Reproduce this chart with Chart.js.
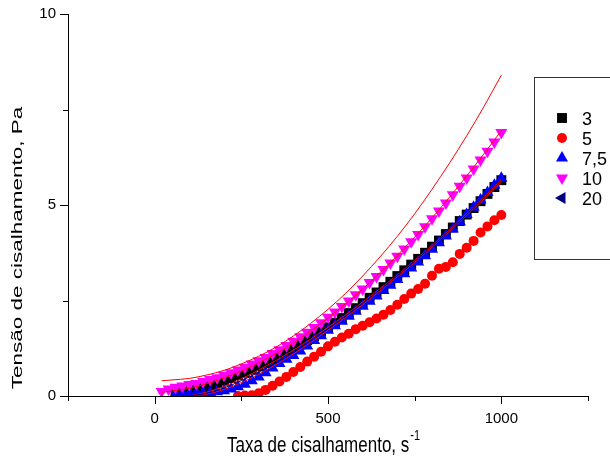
<!DOCTYPE html>
<html>
<head>
<meta charset="utf-8">
<script src="https://cdn.jsdelivr.net/npm/chart.js@4"></script>
<style>
  html, body { margin: 0; padding: 0; background: #fff; }
</style>
</head>
<body>
<canvas id="myChart" width="610" height="460"></canvas>
<script>
// shear rate (s-1) for the measured points
const shearRate = [20, 40, 60, 80, 100, 120, 140, 160, 180, 200,
    220, 240, 260, 280, 300, 320, 340, 360, 380, 400,
    420, 440, 460, 480, 500, 520, 540, 560, 580, 600,
    620, 640, 660, 680, 700, 720, 740, 760, 780, 800,
    820, 840, 860, 880, 900, 920, 940, 960, 980, 1000];

// shear stress (Pa), one list per legend entry
const stress3 = [null, null, 0.05, 0.09, 0.13, 0.17, 0.22, 0.28, 0.33, 0.40,
    0.47, 0.54, 0.61, 0.69, 0.78, 0.86, 0.95, 1.05, 1.15, 1.25,
    1.35, 1.46, 1.57, 1.68, 1.80, 1.92, 2.04, 2.17, 2.30, 2.43,
    2.57, 2.71, 2.85, 2.99, 3.14, 3.29, 3.44, 3.59, 3.75, 3.91,
    4.07, 4.24, 4.41, 4.58, 4.75, 4.92, 5.10, 5.29, 5.47, 5.65];
const stress5 = [null, null, null, null, null, null, null, null, null, null,
    null, 0.00, 0.01, 0.02, 0.07, 0.16, 0.27, 0.38, 0.50, 0.63,
    0.76, 0.90, 1.03, 1.16, 1.30, 1.42, 1.53, 1.63, 1.75, 1.84,
    1.93, 2.03, 2.13, 2.25, 2.39, 2.54, 2.68, 2.80, 2.94, 3.15,
    3.33, 3.38, 3.50, 3.72, 3.88, 4.06, 4.28, 4.44, 4.60, 4.74];
const stress75 = [null, null, 0.05, 0.05, 0.06, 0.07, 0.08, 0.09, 0.11, 0.14,
    0.18, 0.24, 0.31, 0.40, 0.50, 0.61, 0.73, 0.85, 0.96, 1.06,
    1.18, 1.31, 1.45, 1.58, 1.72, 1.84, 1.96, 2.09, 2.22, 2.35,
    2.48, 2.62, 2.76, 2.90, 3.05, 3.20, 3.35, 3.51, 3.67, 3.84,
    4.01, 4.19, 4.37, 4.56, 4.75, 4.94, 5.13, 5.33, 5.52, 5.70];
const stress10 = [0.12, 0.18, 0.23, 0.26, 0.30, 0.33, 0.38, 0.43, 0.48, 0.54,
    0.61, 0.68, 0.75, 0.84, 0.92, 1.01, 1.11, 1.21, 1.32, 1.43,
    1.55, 1.67, 1.79, 1.92, 2.06, 2.20, 2.34, 2.49, 2.65, 2.80,
    2.97, 3.13, 3.31, 3.48, 3.66, 3.85, 4.04, 4.23, 4.43, 4.64,
    4.84, 5.05, 5.27, 5.49, 5.71, 5.94, 6.18, 6.41, 6.65, 6.90];

// fitted curves
const fitRate = [20, 50, 100, 150, 200, 250, 300, 350, 400, 450, 500,
    550, 600, 650, 700, 750, 800, 850, 900, 950, 1000];
const fitUpper = [0.40, 0.42, 0.46, 0.55, 0.67, 0.84, 1.04, 1.28, 1.57, 1.90, 2.27,
    2.68, 3.14, 3.64, 4.18, 4.77, 5.41, 6.09, 6.81, 7.58, 8.40];
const fit10 = [0.10, 0.13, 0.20, 0.32, 0.47, 0.65, 0.87, 1.11, 1.39, 1.70, 2.04,
    2.41, 2.80, 3.23, 3.68, 4.16, 4.66, 5.20, 5.76, 6.34, 6.95];
const fit3 = [null, null, 0.00, 0.10, 0.25, 0.45, 0.68, 0.93, 1.20, 1.49, 1.80,
    2.12, 2.46, 2.81, 3.17, 3.55, 3.94, 4.35, 4.77, 5.21, 5.66];
const fit75 = [null, null, 0.00, 0.05, 0.17, 0.35, 0.57, 0.82, 1.10, 1.40, 1.72,
    2.05, 2.39, 2.75, 3.12, 3.50, 3.90, 4.31, 4.73, 5.16, 5.62];
const stress20 = [null, null, 0.00, 0.07, 0.21, 0.40, 0.62, 0.87, 1.15, 1.45, 1.76,
    2.09, 2.43, 2.78, 3.15, 3.53, 3.92, 4.33, 4.75, 5.19, 5.64];

const legendNames = ['3', '5', '7,5', '10', '20'];
const xTickLabels = [0, 500, 1000];
const yTickLabels = [0, 5, 10];

const FONT = '"Liberation Sans", Arial, sans-serif';
const STRETCH = 1.25;

function points(xs, ys) {
    const out = [];
    xs.forEach((x, i) => {
        if (ys[i] !== null) out.push({ x: x, y: ys[i] });
    });
    return out;
}

function markers(label, values, color, style, rotation, radius) {
    return {
        label: label,
        data: points(shearRate, values),
        pointStyle: style,
        rotation: rotation,
        pointRadius: radius,
        pointHoverRadius: radius,
        backgroundColor: color,
        borderColor: color,
        borderWidth: 0,
        showLine: false,
        clip: { left: false, top: false, right: false, bottom: 0 }
    };
}

function curve(values, color) {
    return {
        label: 'fit',
        data: points(fitRate, values),
        showLine: true,
        borderColor: color,
        borderWidth: 1,
        pointRadius: 0,
        cubicInterpolationMode: 'monotone',
        clip: { left: false, top: false, right: false, bottom: 0 }
    };
}

// first dataset is drawn on top
const datasets = [
    curve(stress20, '#000080'),
    curve(fit3, '#ff0000'),
    curve(fit75, '#ff0000'),
    curve(fit10, '#ff0000'),
    curve(fitUpper, '#ff0000'),
    markers('10', stress10, '#ff00ff', 'triangle', 180, 7),
    markers('7,5', stress75, '#0000ff', 'triangle', 0, 7),
    markers('5', stress5, '#ff0000', 'circle', 0, 5),
    markers('3', stress3, '#000000', 'rect', 0, 7)
];

const legendStyles = [
    { color: '#000000', style: 'rect', rotation: 0 },
    { color: '#ff0000', style: 'circle', rotation: 0 },
    { color: '#0000ff', style: 'triangle', rotation: 0 },
    { color: '#ff00ff', style: 'triangle', rotation: 180 },
    { color: '#000080', style: 'triangle', rotation: -90 }
];

function drawMarker(ctx, s, x, y, r) {
    ctx.save();
    ctx.fillStyle = s.color;
    ctx.translate(x, y);
    ctx.rotate(s.rotation * Math.PI / 180);
    ctx.beginPath();
    if (s.style === 'rect') {
        const h = r * Math.SQRT1_2;
        ctx.rect(-h, -h, 2 * h, 2 * h);
    } else if (s.style === 'circle') {
        ctx.arc(0, 0, r, 0, Math.PI * 2);
    } else {
        for (let k = 0; k < 3; k++) {
            const a = k * 2 * Math.PI / 3;
            ctx.lineTo(Math.sin(a) * r, -Math.cos(a) * r);
        }
        ctx.closePath();
    }
    ctx.fill();
    ctx.restore();
}

function tallText(ctx, text, x, y, size, align, stretch) {
    ctx.save();
    ctx.translate(x, y);
    ctx.scale(1, stretch);
    ctx.font = size + 'px ' + FONT;
    ctx.textAlign = align;
    ctx.textBaseline = 'alphabetic';
    ctx.fillText(text, 0, 0);
    ctx.restore();
}

const decor = {
    id: 'decor',
    afterDraw(chart) {
        const ctx = chart.ctx;
        const xs = chart.scales.x, ys = chart.scales.y;
        const left = chart.chartArea.left, bottom = chart.chartArea.bottom;
        ctx.save();
        ctx.strokeStyle = '#000';
        ctx.lineWidth = 1;
        // tick marks, long ones where a label sits
        ctx.beginPath();
        for (let v = 0; v <= 10; v += 2.5) {
            const py = Math.round(ys.getPixelForValue(v)) + 0.5;
            const len = yTickLabels.includes(v) ? 8 : 5;
            ctx.moveTo(left - len, py);
            ctx.lineTo(left, py);
        }
        for (let v = -250; v <= 1250; v += 250) {
            const px = Math.round(xs.getPixelForValue(v)) + 0.5;
            const len = xTickLabels.includes(v) ? 8 : 5;
            ctx.moveTo(px, bottom);
            ctx.lineTo(px, bottom + len);
        }
        ctx.stroke();

        // axis titles
        ctx.fillStyle = '#000';
        const main = 'Taxa de cisalhamento, s';
        ctx.font = '17px ' + FONT;
        const w = ctx.measureText(main).width;
        ctx.font = '11px ' + FONT;
        const sw = ctx.measureText('-1').width;
        const x0 = 323 - (w + sw) / 2;
        tallText(ctx, main, x0, 452, 17, 'left', STRETCH);
        tallText(ctx, '-1', x0 + w + 1, 440, 11, 'left', STRETCH);

        ctx.save();
        ctx.translate(22, 248);
        ctx.rotate(-Math.PI / 2);
        ctx.scale(1.5, 1);
        ctx.font = '15px ' + FONT;
        ctx.textAlign = 'center';
        ctx.fillText('Tensão de cisalhamento, Pa', 0, 0);
        ctx.restore();

        // legend box
        ctx.strokeStyle = '#333';
        ctx.strokeRect(534.5, 77.5, 120, 182);
        legendNames.forEach((name, i) => {
            const cy = 118 + i * 20;
            drawMarker(ctx, legendStyles[i], 562, cy, i === 1 ? 5 : 7);
            ctx.fillStyle = '#000';
            tallText(ctx, name, 582, cy + 6.5, 18, 'left', 1.05);
        });
        ctx.restore();
    }
};

new Chart(document.getElementById('myChart'), {
    type: 'scatter',
    data: { datasets: datasets },
    plugins: [decor],
    options: {
        responsive: false,
        animation: false,
        layout: { padding: { left: 0, right: 22, top: 14, bottom: 0 } },
        plugins: { legend: { display: false }, tooltip: { enabled: false } },
        scales: {
            x: {
                type: 'linear',
                min: -250,
                max: 1250,
                afterFit: s => { s.height = 64; s.paddingLeft = 0; s.paddingRight = 0; },
                grid: { display: false, drawTicks: false },
                border: { display: true, color: '#000', width: 1 },
                ticks: {
                    stepSize: 250,
                    autoSkip: false,
                    maxRotation: 0,
                    padding: 14,
                    color: '#000',
                    font: { family: FONT, size: 15 },
                    callback: v => xTickLabels.includes(v) ? String(v) : ''
                }
            },
            y: {
                type: 'linear',
                min: 0,
                max: 10,
                afterFit: s => { s.width = 68; s.paddingTop = 0; s.paddingBottom = 0; },
                grid: { display: false, drawTicks: false },
                border: { display: true, color: '#000', width: 1 },
                ticks: {
                    stepSize: 2.5,
                    autoSkip: false,
                    padding: 12,
                    color: '#000',
                    font: { family: FONT, size: 15 },
                    callback: v => yTickLabels.includes(v) ? String(v) : ''
                }
            }
        }
    }
});
</script>
</body>
</html>
